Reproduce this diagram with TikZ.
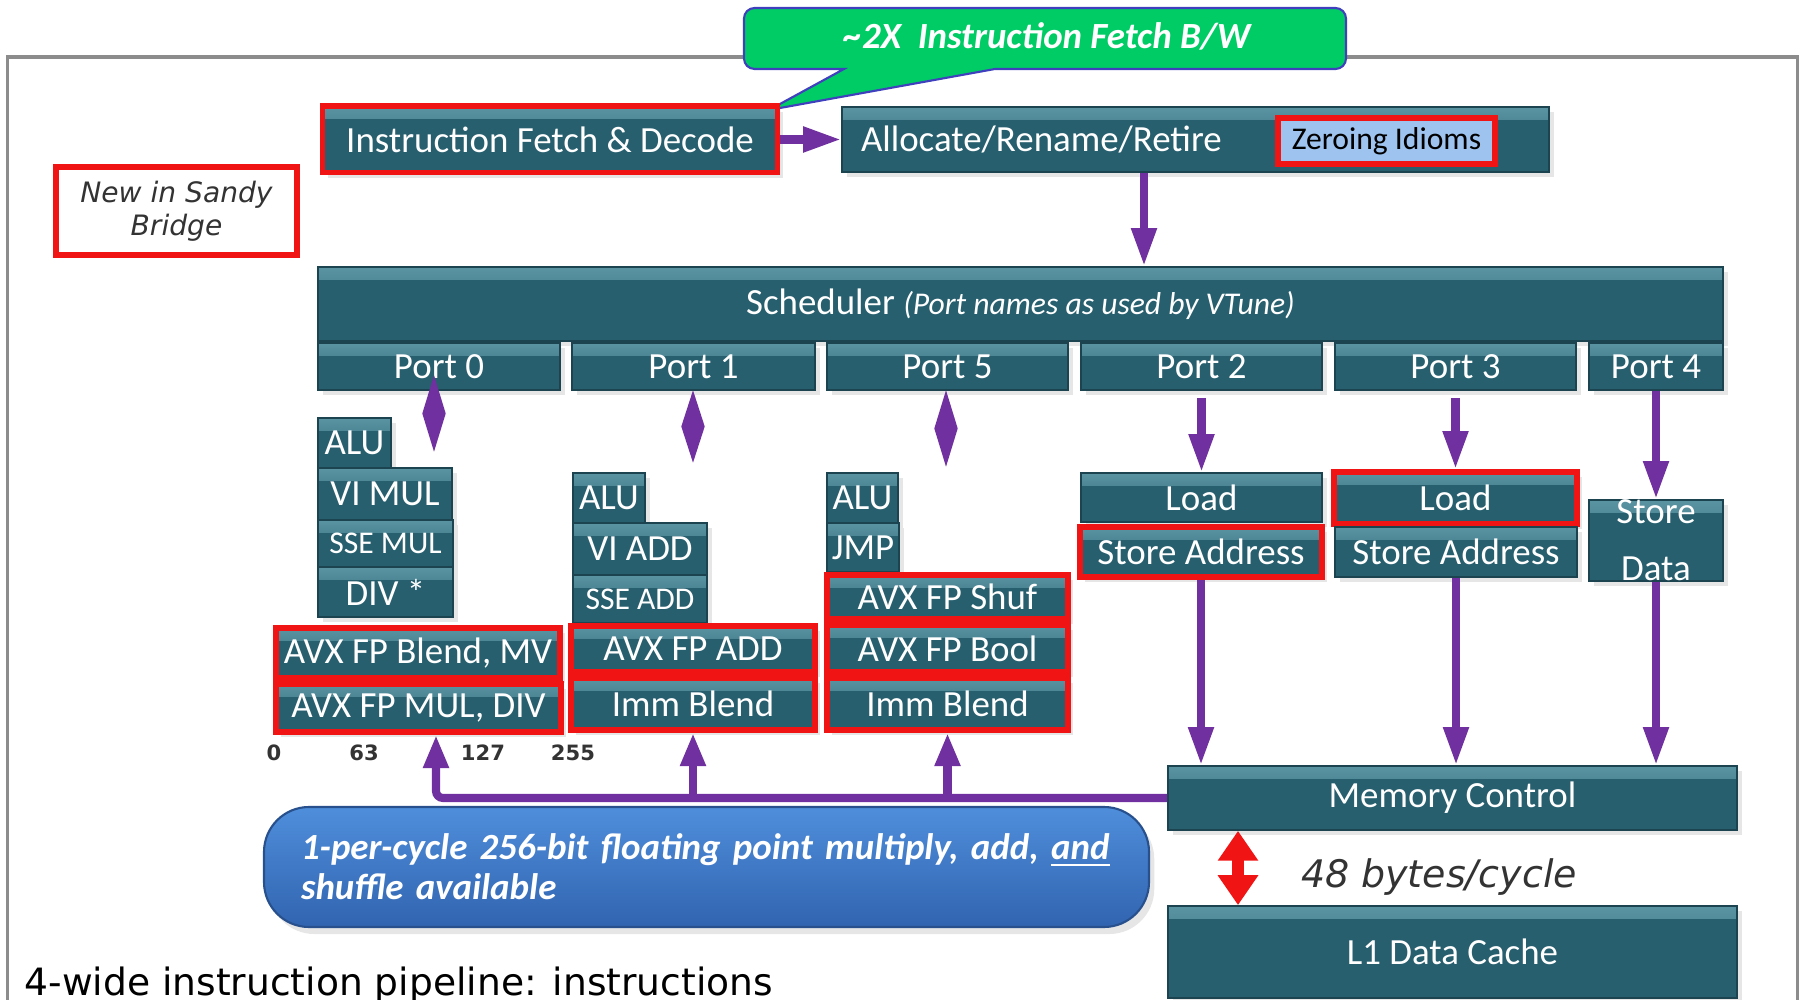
\documentclass[tikz,border=0pt]{standalone}
\usepackage{fontspec}
\setmainfont{Carlito}
\newfontfamily\verdana{DejaVu Sans}
\usetikzlibrary{arrows.meta,shapes.geometric,shadows}

\definecolor{unitteal}{HTML}{275F6E}
\definecolor{unitlight}{HTML}{5A93A1}
\definecolor{unitdark}{HTML}{1B4450}
\definecolor{newred}{HTML}{F01414}
\definecolor{flowpurple}{HTML}{7030A0}
\definecolor{bwgreen}{HTML}{00CC66}
\definecolor{idiomblue}{HTML}{9DC3EE}
\definecolor{framegray}{HTML}{8C8C8C}
\definecolor{darktext}{HTML}{333333}
\definecolor{notetop}{HTML}{4F8EDB}
\definecolor{notebottom}{HTML}{3164B0}

\tikzset{
  unit/.style={fill=unitteal, draw=unitdark, line width=0.5pt, text=white, inner sep=0pt,
    font=\fontsize{10.5}{12}\selectfont,
    drop shadow={opacity=0.2, shadow xshift=1.5pt, shadow yshift=-1.5pt},
    path picture={\shade[top color=unitlight, bottom color=unitteal]
      (path picture bounding box.north west) rectangle ([yshift=-3.5pt]path picture bounding box.north east);}},
  newunit/.style={unit, draw=newred, line width=1.7pt},
  small/.style={font=\fontsize{9}{10}\selectfont},
  flow/.style={draw=flowpurple, line width=2.3pt, -{Triangle[length=10.8pt,width=6.8pt]}},
  dmd/.style={diamond, fill=flowpurple, inner sep=0pt, minimum width=0.24cm},
  bitlabel/.style={font=\verdana\bfseries\fontsize{6}{7}\selectfont, text=darktext, inner sep=0pt},
  note/.style={rounded corners=0.45cm, top color=notetop, bottom color=notebottom,
    draw=notebottom!80!black, line width=0.6pt, text=white, font=\bfseries\itshape\fontsize{10.5}{11.4}\selectfont,
    drop shadow={opacity=0.2, shadow xshift=1.5pt, shadow yshift=-2pt}},
}

\begin{document}
\begin{tikzpicture}[x=1cm, y=-1cm]
\useasboundingbox (0,0) rectangle (18.01,10);

% Frame
\draw[framegray, line width=1.1pt] (0.075,10.2) -- (0.075,0.57) -- (17.975,0.57) -- (17.975,10.2);

% Callout
\draw[fill=bwgreen, draw=blue!50!gray, line width=0.6pt, rounded corners=3pt]
  (7.44,0.08) -- (13.46,0.08) -- (13.46,0.69) [sharp corners] -- (9.95,0.69) -- (7.69,1.10) -- (8.44,0.69)
  [rounded corners=3pt] -- (7.44,0.69) -- cycle;
\node[text=white, font=\bfseries\itshape\fontsize{10.5}{12}\selectfont] (bw) at (10.47,0.36)
  {\textasciitilde 2X\ \ Instruction Fetch B/W};

% Legend
\node[draw=newred, line width=1.7pt, minimum width=2.41cm, minimum height=0.88cm, align=center,
  font=\verdana\itshape\fontsize{8}{9.4}\selectfont, text=darktext] (new) at (1.765,2.11) {New in Sandy\\Bridge};

% Front end
\node[newunit, minimum width=4.55cm, minimum height=0.66cm] (fetch) at (5.50,1.395) {Instruction Fetch \& Decode};
\node[unit, minimum width=7.07cm, minimum height=0.65cm, text width=6.69cm, align=left] (alloc) at (11.955,1.395) {Allocate/Rename/Retire};
\node[draw=newred, line width=1.7pt, fill=idiomblue, inner sep=0pt, minimum width=2.17cm, minimum height=0.46cm,
  font=\fontsize{9}{10}\selectfont] (zero) at (13.865,1.41) {Zeroing Idioms};

% Scheduler and ports
\node[unit, minimum width=14.05cm, minimum height=0.74cm] (sched) at (10.205,3.04)
  {Scheduler {\fontsize{9}{10}\selectfont\itshape (Port names as used by VTune)}};
\node[unit, minimum width=2.42cm, minimum height=0.47cm] (p0) at (4.39,3.665) {Port 0};
\node[unit, minimum width=2.43cm, minimum height=0.47cm] (p1) at (6.935,3.665) {Port 1};
\node[unit, minimum width=2.41cm, minimum height=0.47cm] (p5) at (9.475,3.665) {Port 5};
\node[unit, minimum width=2.41cm, minimum height=0.47cm] (p2) at (12.015,3.665) {Port 2};
\node[unit, minimum width=2.41cm, minimum height=0.47cm] (p3) at (14.555,3.665) {Port 3};
\node[unit, minimum width=1.34cm, minimum height=0.47cm] (p4) at (16.56,3.665) {Port 4};

% Port 0
\node[unit, minimum width=0.73cm, minimum height=0.50cm] (alu0) at (3.545,4.43) {ALU};
\node[unit, minimum width=1.34cm, minimum height=0.52cm] (vimul) at (3.85,4.94) {VI MUL};
\node[unit, small, minimum width=1.35cm, minimum height=0.47cm] (ssemul) at (3.855,5.435) {SSE MUL};
\node[unit, minimum width=1.35cm, minimum height=0.50cm] (div0) at (3.855,5.92) {DIV *};
\node[newunit, minimum width=2.84cm, minimum height=0.50cm] (blend0) at (4.18,6.53) {AVX FP Blend, MV};
\node[newunit, minimum width=2.85cm, minimum height=0.48cm] (fpmul) at (4.185,7.08) {AVX FP MUL, DIV};

% Port 1
\node[unit, minimum width=0.72cm, minimum height=0.50cm] (alu1) at (6.09,4.98) {ALU};
\node[unit, minimum width=1.34cm, minimum height=0.52cm] (viadd) at (6.40,5.49) {VI ADD};
\node[unit, small, minimum width=1.34cm, minimum height=0.48cm] (sseadd) at (6.40,5.99) {SSE ADD};
\node[newunit, minimum width=2.44cm, minimum height=0.46cm] (fpadd) at (6.93,6.49) {AVX FP ADD};
\node[newunit, minimum width=2.44cm, minimum height=0.52cm] (blend1) at (6.93,7.04) {Imm Blend};

% Port 5
\node[unit, minimum width=0.71cm, minimum height=0.50cm] (alu5) at (8.625,4.98) {ALU};
\node[unit, minimum width=0.72cm, minimum height=0.49cm] (jmp) at (8.63,5.475) {JMP};
\node[newunit, minimum width=2.41cm, minimum height=0.44cm] (shuf) at (9.475,5.97) {AVX FP Shuf};
\node[newunit, minimum width=2.41cm, minimum height=0.47cm] (bool) at (9.475,6.485) {AVX FP Bool};
\node[newunit, minimum width=2.41cm, minimum height=0.52cm] (blend5) at (9.475,7.04) {Imm Blend};

% Ports 2, 3, 4
\node[unit, minimum width=2.41cm, minimum height=0.49cm] (load2) at (12.015,4.975) {Load};
\node[newunit, minimum width=2.42cm, minimum height=0.50cm] (sa2) at (12.01,5.52) {Store Address};
\node[newunit, minimum width=2.43cm, minimum height=0.52cm] (load3) at (14.555,4.98) {Load};
\node[unit, minimum width=2.42cm, minimum height=0.50cm] (sa3) at (14.56,5.52) {Store Address};
\node[unit, minimum width=1.34cm, minimum height=0.77cm, align=center, font=\fontsize{10.5}{16.2}\selectfont] (sd) at (16.56,5.405) {Store\\Data};

% Memory
\node[unit, minimum width=5.69cm, minimum height=0.64cm] (mem) at (14.525,7.98) {Memory Control};
\node[unit, minimum width=5.69cm, minimum height=0.92cm] (l1) at (14.525,9.52) {L1 Data Cache};

% Port links
\node[dmd, minimum height=0.77cm] (d0) at (4.34,4.135) {};
\node[dmd, minimum height=0.73cm] (d1) at (6.93,4.265) {};
\node[dmd, minimum height=0.77cm] (d5) at (9.46,4.285) {};

\draw[flow] (fetch.east) -- (alloc.west);
\draw[flow] (alloc.south -| 11.44,0) -- (sched.north -| 11.44,0);
\draw[flow, shorten <=2pt] (p2.south) -- (load2.north);
\draw[flow, shorten <=2pt] (p3.south) -- (load3.north);
\draw[flow] (p4.south) -- (sd.north);
\draw[flow] (sa2.south) -- (sa2.south |- mem.north);
\draw[flow] (sa3.south) -- (sa3.south |- mem.north);
\draw[flow] (sd.south) -- (sd.south |- mem.north);

% Result bus
\draw[flow, -{Triangle[length=9.4pt,width=6.8pt]}, rounded corners=2pt] (mem.west) -| ([xshift=0.175cm]fpmul.south);
\draw[flow, -{Triangle[length=9.4pt,width=6.8pt]}] (blend1.south |- mem.west) -- (blend1.south);
\draw[flow, -{Triangle[length=9.4pt,width=6.8pt]}] (blend5.south |- mem.west) -- (blend5.south);

% Cache bandwidth
\draw[newred, line width=3.2pt, {Triangle[length=8.5pt,width=11pt]}-{Triangle[length=8.5pt,width=11pt]}]
  (mem.south -| 12.38,0) -- (l1.north -| 12.38,0);
\node[font=\verdana\itshape\fontsize{10.8}{12}\selectfont, text=darktext, inner sep=0pt] (rate) at (14.39,8.77) {48 bytes/cycle};

% Lane widths
\node[bitlabel] (b0) at (2.74,7.53) {0};
\node[bitlabel] (b63) at (3.64,7.53) {63};
\node[bitlabel] (b127) at (4.83,7.53) {127};
\node[bitlabel] (b255) at (5.73,7.53) {255};

% Note
\node[note, minimum width=8.85cm, minimum height=1.20cm, text width=8.11cm, inner xsep=0.37cm, inner ysep=0pt, align=left] (fpnote) at (7.065,8.67)
  {1-per-cycle 256-bit floating point multiply, add, \underline{and}\\shuffle available};

\node[anchor=base west, font=\verdana\fontsize{10.7}{12}\selectfont, inner sep=0pt] (caption) at (0.24,9.96) {4-wide instruction pipeline: instructions};

\end{tikzpicture}
\end{document}
